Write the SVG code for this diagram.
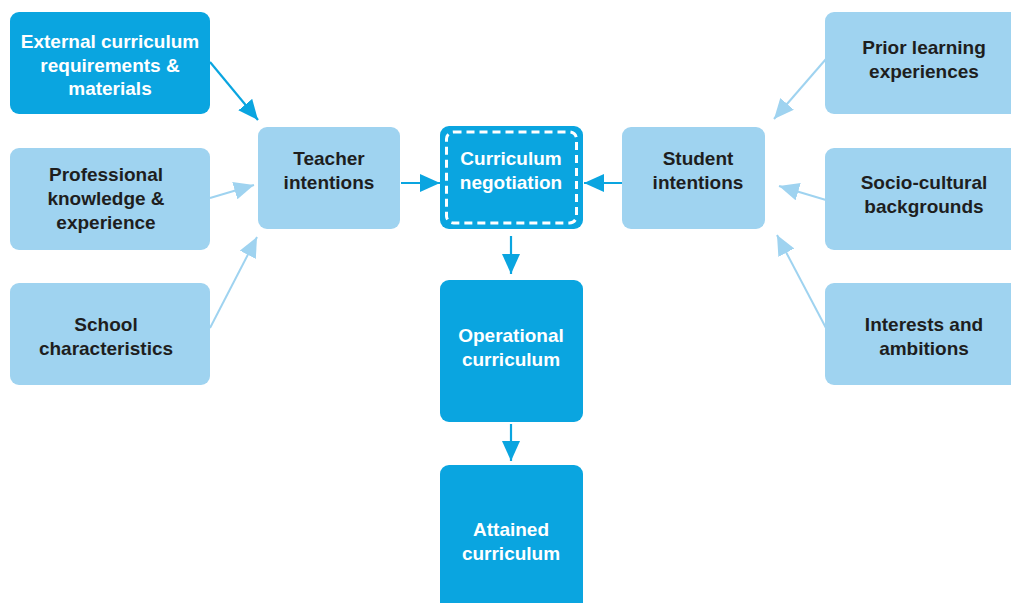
<svg xmlns="http://www.w3.org/2000/svg" width="1011" height="603" viewBox="0 0 1011 603">
<defs>
<style>
.dark{fill:#0aa5e0}
.light{fill:#9fd3f0}
text{font-family:"Liberation Sans",Arial,sans-serif;font-weight:bold;font-size:19px;text-anchor:middle}
.tl{fill:#1e1e1e}
.tw{fill:#ffffff}
.cd{stroke:#0aa5e0;stroke-width:2.2;fill:none}
.cl{stroke:#9fd3f0;stroke-width:2;fill:none}
</style>
<marker id="hd" markerUnits="userSpaceOnUse" markerWidth="22" markerHeight="18" refX="20" refY="9" orient="auto">
<path d="M0,0 L20,9 L0,18 z" fill="#0aa5e0"/>
</marker>
<marker id="hl" markerUnits="userSpaceOnUse" markerWidth="22" markerHeight="18" refX="20" refY="9" orient="auto">
<path d="M0,0 L20,9 L0,18 z" fill="#9fd3f0"/>
</marker>
</defs>
<rect width="1011" height="603" fill="#ffffff"/>
<g id="connectors">
<line class="cd" x1="210" y1="62" x2="258" y2="120" marker-end="url(#hd)"/>
<line class="cl" x1="210" y1="198" x2="254" y2="185" marker-end="url(#hl)"/>
<line class="cl" x1="210" y1="328" x2="257" y2="237" marker-end="url(#hl)"/>
<line class="cd" x1="401" y1="183" x2="440" y2="183" marker-end="url(#hd)"/>
<line class="cd" x1="622" y1="183" x2="584" y2="183" marker-end="url(#hd)"/>
<line class="cd" x1="511" y1="236" x2="511" y2="274" marker-end="url(#hd)"/>
<line class="cd" x1="511" y1="424" x2="511" y2="461" marker-end="url(#hd)"/>
<line class="cl" x1="826" y1="59" x2="774" y2="119" marker-end="url(#hl)"/>
<line class="cl" x1="826" y1="200" x2="779" y2="186" marker-end="url(#hl)"/>
<line class="cl" x1="826" y1="328" x2="777" y2="235" marker-end="url(#hl)"/>
</g>
<g id="external">
<rect class="dark" x="10" y="12" width="200" height="102" rx="9"/>
<text class="tw" x="110" y="48">External curriculum</text>
<text class="tw" x="110" y="72">requirements &amp;</text>
<text class="tw" x="110" y="95">materials</text>
</g>
<g id="professional">
<rect class="light" x="10" y="148" width="200" height="102" rx="9"/>
<text class="tl" x="106" y="181">Professional</text>
<text class="tl" x="106" y="205">knowledge &amp;</text>
<text class="tl" x="106" y="229">experience</text>
</g>
<g id="school">
<rect class="light" x="10" y="283" width="200" height="102" rx="9"/>
<text class="tl" x="106" y="331">School</text>
<text class="tl" x="106" y="355">characteristics</text>
</g>
<g id="teacher">
<rect class="light" x="258" y="127" width="142" height="102" rx="9"/>
<text class="tl" x="329" y="165">Teacher</text>
<text class="tl" x="329" y="189">intentions</text>
</g>
<g id="negotiation">
<rect class="dark" x="440" y="126" width="143" height="103" rx="9"/>
<rect x="446.5" y="132" width="130" height="91" rx="7" fill="none" stroke="#ffffff" stroke-width="3" stroke-dasharray="8 5"/>
<text class="tw" x="511" y="165">Curriculum</text>
<text class="tw" x="511" y="189">negotiation</text>
</g>
<g id="student">
<rect class="light" x="622" y="127" width="143" height="102" rx="9"/>
<text class="tl" x="698" y="165">Student</text>
<text class="tl" x="698" y="189">intentions</text>
</g>
<g id="prior">
<rect class="light" x="825" y="12" width="200" height="102" rx="9"/>
<text class="tl" x="924" y="54">Prior learning</text>
<text class="tl" x="924" y="78">experiences</text>
</g>
<g id="socio">
<rect class="light" x="825" y="148" width="200" height="102" rx="9"/>
<text class="tl" x="924" y="189">Socio-cultural</text>
<text class="tl" x="924" y="213">backgrounds</text>
</g>
<g id="interests">
<rect class="light" x="825" y="283" width="200" height="102" rx="9"/>
<text class="tl" x="924" y="331">Interests and</text>
<text class="tl" x="924" y="355">ambitions</text>
</g>
<g id="operational">
<rect class="dark" x="440" y="280" width="143" height="142" rx="9"/>
<text class="tw" x="511" y="342">Operational</text>
<text class="tw" x="511" y="366">curriculum</text>
</g>
<g id="attained">
<rect class="dark" x="440" y="465" width="143" height="150" rx="9"/>
<text class="tw" x="511" y="536">Attained</text>
<text class="tw" x="511" y="560">curriculum</text>
</g>
</svg>
